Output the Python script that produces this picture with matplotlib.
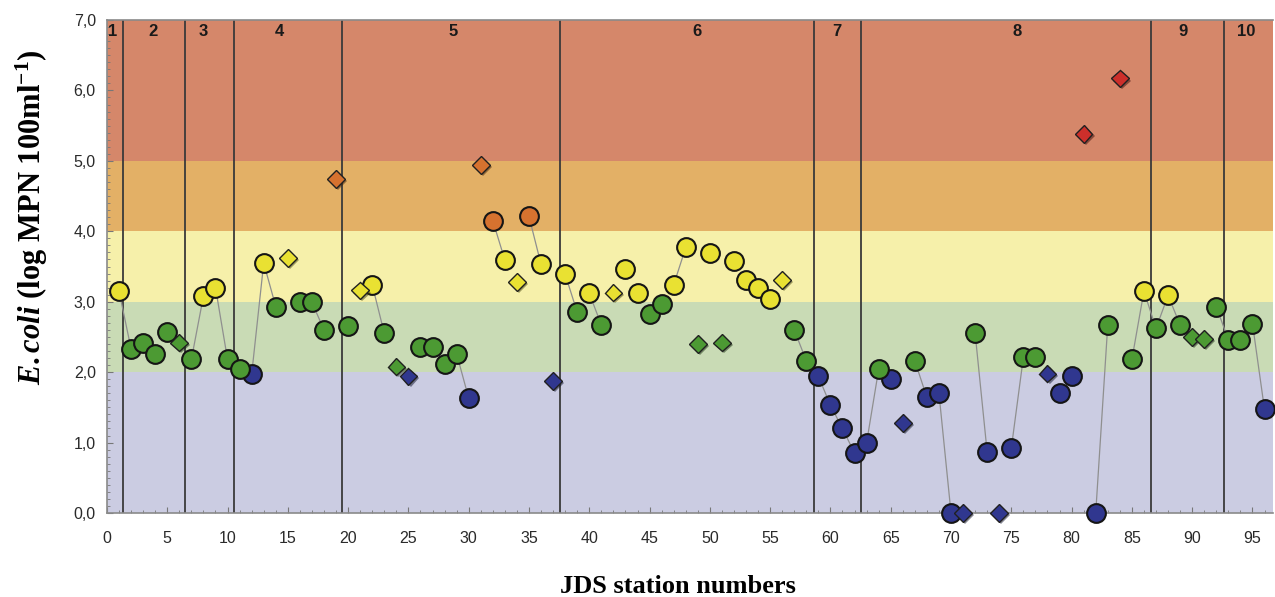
import matplotlib
matplotlib.use("Agg")
import matplotlib.pyplot as plt
import matplotlib.patheffects as pe
from matplotlib.ticker import MultipleLocator, FuncFormatter
import numpy as np

# E.coli per JDS station (log MPN 100ml-1)
stations = np.arange(1, 97)
ecoli = [3.15, 2.33, 2.42, 2.26, 2.57, 2.42, 2.18, 3.08, 3.20, 2.18,
         2.05, 1.97, 3.55, 2.93, 3.62, 2.99, 2.99, 2.60, 4.74, 2.66,
         3.16, 3.24, 2.55, 2.08, 1.94, 2.35, 2.36, 2.12, 2.26, 1.63,
         4.94, 4.15, 3.59, 3.28, 4.21, 3.53, 1.87, 3.39, 2.85, 3.12,
         2.67, 3.13, 3.46, 3.12, 2.83, 2.97, 3.24, 3.77, 2.40, 3.69,
         2.42, 3.58, 3.31, 3.19, 3.04, 3.31, 2.60, 2.16, 1.94, 1.53,
         1.20, 0.85, 1.00, 2.04, 1.90, 1.28, 2.16, 1.64, 1.70, 0.00,
         0.00, 2.55, 0.86, 0.00, 0.92, 2.21, 2.21, 1.98, 1.70, 1.94,
         5.38, 0.00, 2.67, 6.17, 2.18, 3.15, 2.62, 3.09, 2.67, 2.50,
         2.47, 2.93, 2.46, 2.46, 2.69, 1.47]

# stations plotted as diamonds (tributaries), the rest are circles
diamond_stations = [6, 15, 19, 21, 24, 25, 31, 34, 37, 42, 49, 51, 56,
                    66, 71, 74, 78, 81, 84, 90, 91]

# runs of stations joined by the thin grey line
line_runs = [[1, 2], [7, 8], [9, 10], [12, 13, 14], [17, 18], [22, 23],
             [29, 30], [32, 33], [35, 36], [38, 39], [40, 41], [47, 48],
             [57, 58, 59, 60, 61, 62, 63, 64], [67, 68], [69, 70], [72, 73],
             [75, 76], [82, 83], [85, 86, 87, 88, 89], [92, 93], [95, 96]]

# river section borders and section labels
section_borders = [1.3, 6.5, 10.5, 19.5, 37.6, 58.6, 62.5, 86.6, 92.6]
section_labels = ['1', '2', '3', '4', '5', '6', '7', '8', '9', '10']
section_label_x = [0.45, 3.8, 8.0, 14.3, 28.7, 48.9, 60.5, 75.5, 89.2, 94.5]

# quality class bands
class_edges = [0, 2, 3, 4, 5, 7]
band_colors = ['#cbcce2', '#c9dbb5', '#f6f0aa', '#e3b066', '#d5876a']
marker_colors = ['#30378f', '#4c9a33', '#e9e132', '#d6722f', '#cc2f2b']

plt.rcParams['mathtext.fontset'] = 'custom'
plt.rcParams['mathtext.rm'] = 'Liberation Serif:bold'
plt.rcParams['mathtext.it'] = 'Liberation Serif:italic:bold'

fig = plt.figure(figsize=(12.75, 5.97), dpi=100)
ax = fig.add_axes([0.0839, 0.1407, 0.9145, 0.8258])

for lo, hi, c in zip(class_edges[:-1], class_edges[1:], band_colors):
    ax.axhspan(lo, hi, color=c, lw=0, zorder=0)

for xb in section_borders:
    ax.axvline(xb, color='#3a3a3a', lw=1.3, zorder=1)
for lab, xl in zip(section_labels, section_label_x):
    ax.text(xl, 6.83, lab, ha='center', va='center', fontsize=12,
            fontweight='bold', family='Liberation Sans', color='#1a1a1a', zorder=2)

vals = np.array(ecoli)
cls = np.digitize(vals, class_edges[1:-1])
for run in line_runs:
    idx = [s - 1 for s in run]
    ax.plot(stations[idx], vals[idx], color='#8f8f8f', lw=0.9, zorder=2)

is_d = np.isin(stations, diamond_stations)
for k, c in enumerate(marker_colors):
    m = (cls == k) & ~is_d
    ax.plot(stations[m], vals[m], 'o', ms=13.5, mfc=c, mec='#151515', mew=1.5,
            zorder=3, clip_on=False)
    m = (cls == k) & is_d
    ax.plot(stations[m], vals[m], 'D', ms=9, mfc=c, mec='#202020', mew=1.0,
            zorder=3, clip_on=False,
            path_effects=[pe.SimplePatchShadow(offset=(1.5, -1.5), alpha=0.5),
                          pe.Normal()])

ax.set_xlim(0, 96.7)
ax.set_ylim(0, 7)
ax.xaxis.set_major_locator(MultipleLocator(5))
ax.xaxis.set_minor_locator(MultipleLocator(1))
ax.yaxis.set_major_locator(MultipleLocator(1))
ax.yaxis.set_minor_locator(MultipleLocator(0.1))
ax.yaxis.set_major_formatter(FuncFormatter(lambda v, p: '{:.1f}'.format(v).replace('.', ',')))
ax.tick_params(which='both', direction='in', colors='#777777', labelcolor='#2a2a2a',
               labelsize=11.5)
ax.tick_params(which='major', length=4)
ax.tick_params(which='minor', length=2.5)
ax.tick_params(axis='x', pad=13)
ax.tick_params(axis='y', pad=8)
for lab in ax.get_xticklabels() + ax.get_yticklabels():
    lab.set_family('Liberation Sans')

for side in ['left', 'bottom', 'top']:
    ax.spines[side].set_color('#8a8a8a')
    ax.spines[side].set_linewidth(1.2)
ax.spines['right'].set_visible(False)

ax.set_xlabel('JDS station numbers', family='Liberation Serif', fontweight='bold',
              fontsize=19)
ax.xaxis.set_label_coords(0.49, -0.125)
ax.set_ylabel(r'$\mathit{E.coli}\ \mathrm{(log\ MPN\ 100ml^{-1})}$', fontsize=22)
ax.yaxis.set_label_coords(-0.049, 0.6)

fig.savefig('out.png', dpi=100)
